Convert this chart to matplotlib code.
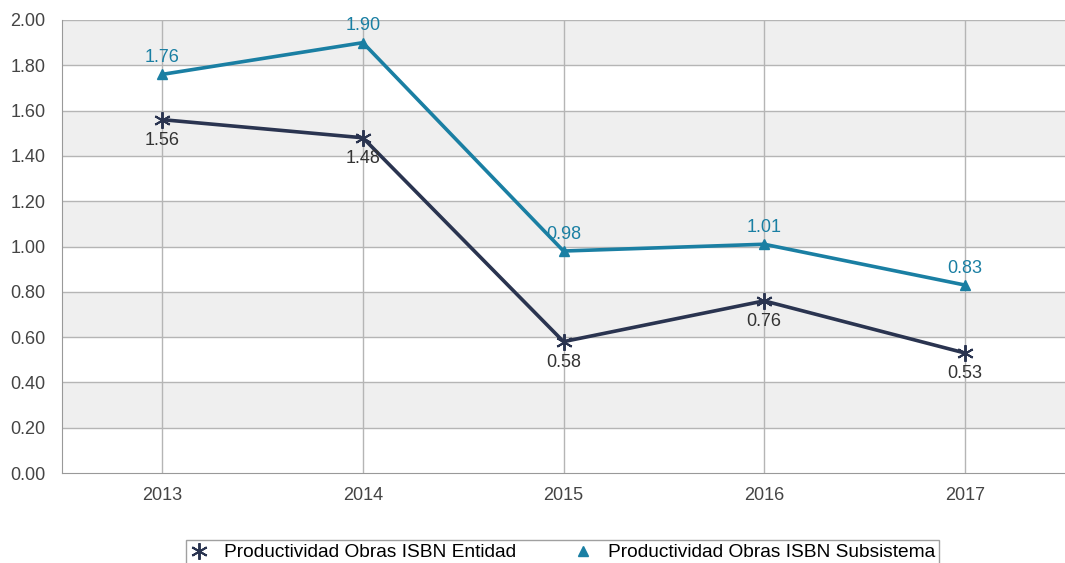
import matplotlib.pyplot as plt
import numpy as np

plt.rcParams['font.family'] = ['Liberation Sans', 'DejaVu Sans']

years = ['2013', '2014', '2015', '2016', '2017']
entidad = [1.56, 1.48, 0.58, 0.76, 0.53]
subsistema = [1.76, 1.90, 0.98, 1.01, 0.83]
yticks = [0.0, 0.2, 0.4, 0.6, 0.8, 1.0, 1.2, 1.4, 1.6, 1.8, 2.0]

c_ent = '#2a3450'
c_sub = '#1a7fa3'

fig = plt.figure(figsize=(10.65, 5.63), dpi=100)
ax = fig.add_axes([62/1065, 1-473/563, 1-62/1065, (473-20)/563])

x = np.arange(len(years)) + 0.5
ax.set_xlim(0, len(years))
ax.set_ylim(0, 2.0)

# alternating bands
for lo in yticks[1:-1:2]:
    ax.axhspan(lo, lo + 0.2, color='#efefef', zorder=0, lw=0)
for y in yticks[1:]:
    ax.axhline(y, color='#b5b5b5', lw=1, zorder=1)
for xi in x:
    ax.axvline(xi, color='#b5b5b5', lw=1, zorder=1)

ax.plot(x, entidad, color=c_ent, lw=2.6, marker=(6, 2, 0), ms=12, mew=1.4,
        label='Productividad Obras ISBN Entidad', zorder=3)
ax.plot(x, subsistema, color=c_sub, lw=2.6, marker='^', ms=7,
        label='Productividad Obras ISBN Subsistema', zorder=3)

for xi, v in zip(x, entidad):
    ax.annotate('%.2f' % v, (xi, v), xytext=(0, -15), textcoords='offset points',
                ha='center', va='center', fontsize=13, color='#333333')
for xi, v in zip(x, subsistema):
    ax.annotate('%.2f' % v, (xi, v), xytext=(0, 12), textcoords='offset points',
                ha='center', va='center', fontsize=13, color=c_sub)

ax.set_xticks(x)
ax.set_xticklabels(years)
ax.set_yticks(yticks)
ax.set_yticklabels(['%.2f' % t for t in yticks])
ax.tick_params(length=0, labelsize=13, labelcolor='#444444')
ax.tick_params(axis='x', pad=10)
ax.tick_params(axis='y', pad=12)

for s in ['top', 'right']:
    ax.spines[s].set_visible(False)
ax.spines['left'].set_color('#999999')
ax.spines['bottom'].set_color('#999999')

leg = fig.legend(loc='upper center', bbox_to_anchor=(0.528, 1-540/563), ncol=2,
                 fontsize=13.8, frameon=True, fancybox=False, edgecolor='#888888',
                 handlelength=1.0, columnspacing=3.0, borderpad=0.2,
                 borderaxespad=0)
leg.get_frame().set_linewidth(1.0)
for h in leg.legend_handles:
    h.set_linestyle('none')

fig.savefig('out.png', dpi=100)
